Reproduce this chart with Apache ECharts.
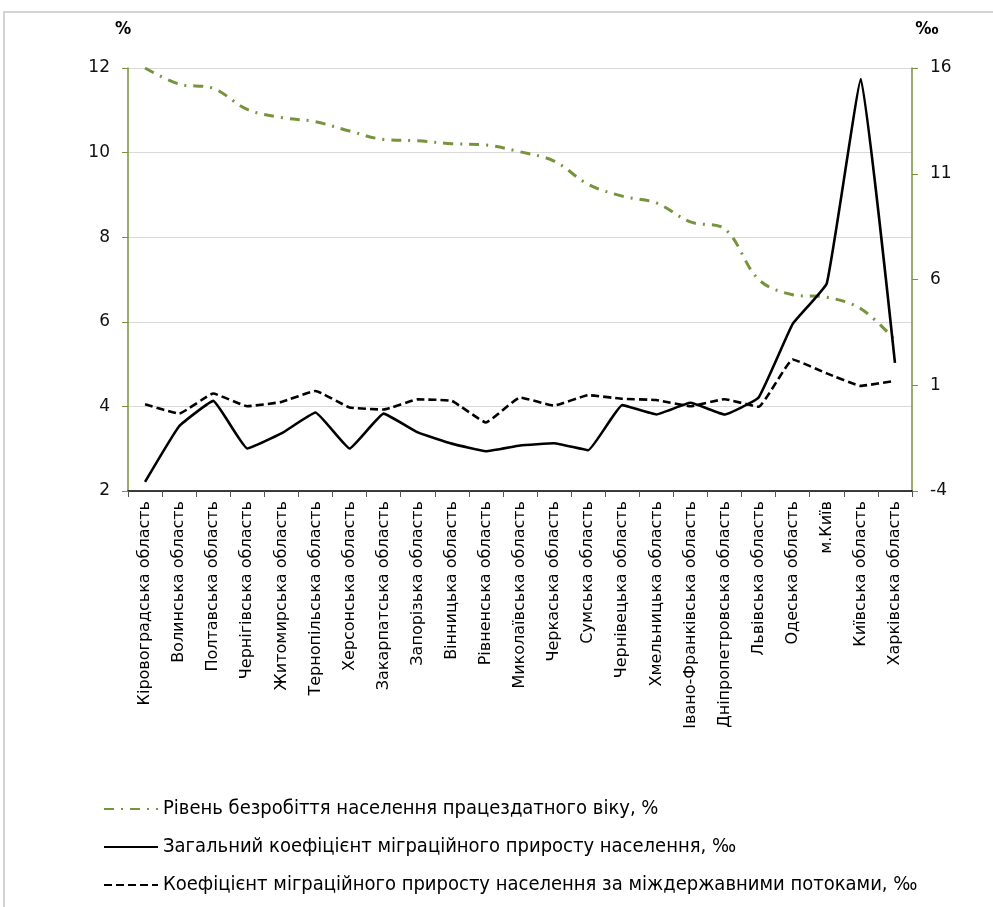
<!DOCTYPE html>
<html>
<head>
<meta charset="utf-8">
<script src="https://cdn.jsdelivr.net/npm/echarts@6/dist/echarts.min.js"></script>
<style>
html,body{margin:0;padding:0;background:#fff;}
#c{width:993px;height:907px;}
</style>
</head>
<body>
<div id="c"></div>
<script>
const categories = ["Кіровоградська область","Волинська область","Полтавська область","Чернігівська область","Житомирська область","Тернопільська область","Херсонська область","Закарпатська область","Запорізька область","Вінницька область","Рівненська область","Миколаївська область","Черкаська область","Сумська область","Чернівецька область","Хмельницька область","Івано-Франківська область","Дніпропетровська область","Львівська область","Одеська область","м.Київ","Київська область","Харківська область"];
const unemployment = [12.0,11.62,11.52,11.02,10.83,10.73,10.51,10.31,10.28,10.21,10.18,10.02,9.8,9.25,8.97,8.81,8.36,8.2,7.0,6.64,6.58,6.31,5.57];
const migrationTotal = [-3.57,-0.94,0.26,-1.99,-1.28,-0.29,-1.99,-0.34,-1.23,-1.76,-2.12,-1.85,-1.74,-2.07,0.06,-0.38,0.17,-0.38,0.42,3.9,5.82,15.48,2.06];
const migrationInternational = [0.1,-0.34,0.61,0.01,0.21,0.73,-0.05,-0.15,0.33,0.26,-0.76,0.42,0.04,0.53,0.36,0.3,0.01,0.34,-0.02,2.22,1.56,0.97,1.21];
const rightTicks = [-4,1,6,11,16];
const seriesNames = ["Рівень безробіття населення працездатного віку, %","Загальний коефіцієнт міграційного приросту населення, ‰","Коефіцієнт міграційного приросту населення за міждержавними потоками, ‰"];

const chart = echarts.init(document.getElementById('c'));
const green = '#77933c';
const tickFont = 'DejaVu Sans, sans-serif';
const condFont = '"DejaVu Sans Condensed", "Liberation Sans Narrow", "DejaVu Sans", sans-serif';

chart.setOption({
  animation: false,
  backgroundColor: '#fff',
  graphic: [{
    type: 'rect',
    shape: {x: 4, y: 12, width: 1100, height: 1000},
    style: {fill: null, stroke: '#d4d4d4', lineWidth: 2},
    silent: true, z: -10
  }],
  grid: {left: 128, right: 81, top: 68, bottom: 416, containLabel: false},
  legend: {
    orient: 'vertical',
    left: 98, top: 794,
    itemWidth: 54, itemHeight: 14, itemGap: 18,
    itemStyle: {opacity: 0},
    textStyle: {fontFamily: condFont, fontSize: 20, color: '#000'},
    data: seriesNames
  },
  xAxis: {
    type: 'category',
    data: categories,
    boundaryGap: true,
    axisLine: {onZero: false, lineStyle: {color: '#000', width: 1.5}},
    axisTick: {show: true, interval: 0, length: 6, lineStyle: {color: '#555'}},
    axisLabel: {interval: 0, rotate: 90, margin: 10, fontFamily: tickFont, fontSize: 16, color: '#000'}
  },
  yAxis: [{
    type: 'value', min: 2, max: 12, interval: 2,
    name: '%', nameLocation: 'end', nameGap: 30,
    nameTextStyle: {fontFamily: condFont, fontWeight: 'bold', fontSize: 18, color: '#000', align: 'center', padding: [0, 10, 0, 0]},
    axisLine: {show: true, lineStyle: {color: green, width: 1.5}},
    axisTick: {show: true, length: 6, lineStyle: {color: green}},
    axisLabel: {fontFamily: tickFont, fontSize: 17, color: '#111', margin: 18},
    splitLine: {show: true, lineStyle: {color: '#d9d9d9', width: 1.2}}
  }, {
    type: 'value', min: -4, max: 16, position: 'right',
    name: '‰', nameLocation: 'end', nameGap: 30,
    nameTextStyle: {fontFamily: condFont, fontWeight: 'bold', fontSize: 18, color: '#000', align: 'center', padding: [0, 0, 0, 30]},
    axisLine: {show: true, lineStyle: {color: green, width: 1.5}},
    axisTick: {show: true, length: 6, customValues: rightTicks, lineStyle: {color: green}},
    axisLabel: {customValues: rightTicks, fontFamily: tickFont, fontSize: 17, color: '#111', margin: 18},
    splitLine: {show: false}
  }],
  series: [{
    name: seriesNames[0], type: 'line', yAxisIndex: 0, data: unemployment,
    symbol: 'none', smooth: 0.35,
    lineStyle: {color: green, width: 3, type: [10, 7, 2, 7]},
    itemStyle: {color: green}, z: 3
  }, {
    name: seriesNames[1], type: 'line', yAxisIndex: 1, data: migrationTotal,
    symbol: 'none', smooth: 0.1,
    lineStyle: {color: '#000', width: 2.6, type: 'solid'},
    itemStyle: {color: '#000'}, z: 4
  }, {
    name: seriesNames[2], type: 'line', yAxisIndex: 1, data: migrationInternational,
    symbol: 'none', smooth: 0.1,
    lineStyle: {color: '#000', width: 2.6, type: [8, 4]},
    itemStyle: {color: '#000'}, z: 4
  }]
});
</script>
</body>
</html>
